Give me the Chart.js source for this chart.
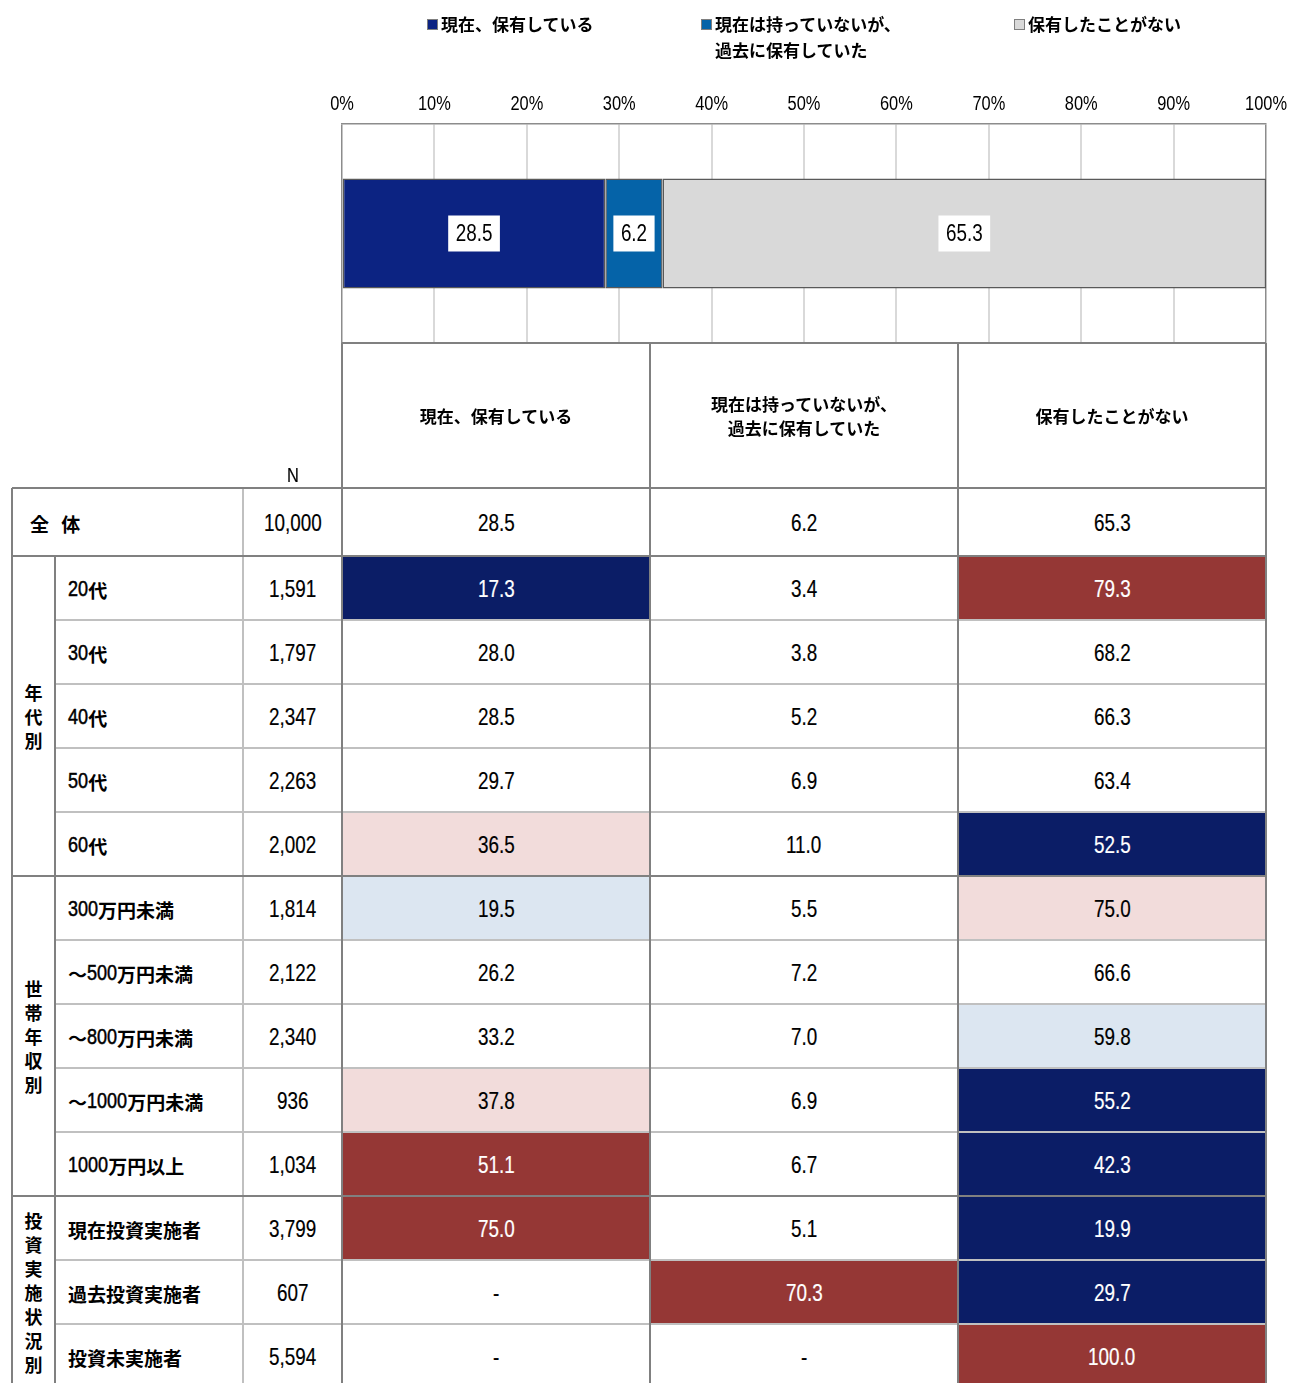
<!DOCTYPE html>
<html lang="ja">
<head>
<meta charset="utf-8">
<title>保有状況</title>
<script src="https://cdn.jsdelivr.net/npm/chart.js@4.4.1/dist/chart.umd.min.js"></script>
<style>
  html, body { margin: 0; padding: 0; background: #fff; }
  body {
    position: relative; width: 1290px; height: 1383px; overflow: hidden;
    font-family: "Noto Sans CJK JP", sans-serif;
    color: #000;
  }
  #chartBox { position: absolute; left: 0; top: 0; width: 1290px; height: 345px; }
  .legend-item { position: absolute; top: 11px; font-weight: 700; font-size: 17px; line-height: 26px; white-space: pre; }
  .legend-swatch { position: absolute; width: 9px; height: 9px; border: 1px solid #7f7f7f; top: 19px; }
  .cell { position: absolute; display: flex; align-items: center; box-sizing: border-box; white-space: nowrap; }
  .val { justify-content: center; font-size: 23px; padding-top: 3px; }
  .rowlabel { font-weight: 700; font-size: 19px; padding-left: 13px; padding-top: 2px; }
  .head { justify-content: center; text-align: center; font-weight: 700; font-size: 17px; line-height: 24px; white-space: pre; }
  .group { justify-content: center; text-align: center; font-weight: 700; font-size: 18px; line-height: 24px; }
  .rule { position: absolute; }
  /* narrow figures: Arial metrics squeezed horizontally */
  .nar { display: inline-block; font-family: "Liberation Sans", Arial, sans-serif; transform: scaleX(0.82); transform-origin: 0 50%; -webkit-text-stroke: 0.2px currentColor; }
  .rowlabel .nar { font-weight: 400; font-size: 22px; -webkit-text-stroke: 0.5px #000; }
</style>
</head>
<body>
<div id="chartBox"><canvas id="chart"></canvas></div>
<div id="legend"></div>
<div id="table"></div>
<script>
// ---- data ----
const seriesNames = ['現在、保有している', '現在は持っていないが、\n過去に保有していた', '保有したことがない'];
const rowLabels = ['全 体', '20代', '30代', '40代', '50代', '60代',
  '300万円未満', '～500万円未満', '～800万円未満', '～1000万円未満', '1000万円以上',
  '現在投資実施者', '過去投資実施者', '投資未実施者'];
const rowN = [10000, 1591, 1797, 2347, 2263, 2002, 1814, 2122, 2340, 936, 1034, 3799, 607, 5594];
const holdingNow = [28.5, 17.3, 28.0, 28.5, 29.7, 36.5, 19.5, 26.2, 33.2, 37.8, 51.1, 75.0, null, null];
const heldBefore = [6.2, 3.4, 3.8, 5.2, 6.9, 11.0, 5.5, 7.2, 7.0, 6.9, 6.7, 5.1, 70.3, null];
const neverHeld = [65.3, 79.3, 68.2, 66.3, 63.4, 52.5, 75.0, 66.6, 59.8, 55.2, 42.3, 19.9, 29.7, 100.0];
const groupLabels = ['年代別', '世帯年収別', '投資実施状況別'];
const groupSizes = [5, 5, 3];
const tickStep = 10;

const columns = [holdingNow, heldBefore, neverHeld];
// the stacked bar shows the first table row (全体)
const overall = columns.map(c => c[0]);

// ---- styling ----
const FIG_FONT = '"Liberation Sans", Arial, sans-serif';
const SQUEEZE = 0.82;
const barColors = ['#0c2382', '#0563a8', '#d9d9d9'];
const DARK = '#808080', LIGHT = '#c0c0c0';
const HI2 = '#953735', HI1 = '#f2dcdb', LO1 = '#dce6f1', LO2 = '#0b1d66';

// cell shading by difference from the overall value
function shade(v, base) {
  if (v == null) return null;
  const d = v - base;
  if (d >= 10) return { bg: HI2, fg: '#fff' };
  if (d >= 5) return { bg: HI1, fg: '#000' };
  if (d <= -10) return { bg: LO2, fg: '#fff' };
  if (d <= -5) return { bg: LO1, fg: '#000' };
  return null;
}

// draw squeezed text on the canvas
function squeezedText(ctx, txt, x, y, size) {
  ctx.save();
  ctx.font = size + 'px ' + FIG_FONT;
  ctx.textAlign = 'center';
  ctx.textBaseline = 'middle';
  ctx.translate(x, y);
  ctx.scale(SQUEEZE, 1);
  ctx.fillText(txt, 0, 0);
  ctx.restore();
}

// ---- stacked bar ----
Chart.defaults.font.family = FIG_FONT;
Chart.defaults.color = '#000';

const barValueLabels = {
  id: 'barValueLabels',
  afterDatasetsDraw(chart) {
    const ctx = chart.ctx;
    chart.data.datasets.forEach((ds, i) => {
      const meta = chart.getDatasetMeta(i);
      meta.data.forEach((el, j) => {
        const v = ds.data[j];
        const p = el.getProps(['x', 'base', 'y'], true);
        const cx = (p.x + p.base) / 2;
        const txt = v.toFixed(1);
        ctx.save();
        ctx.font = '23px ' + FIG_FONT;
        const w = ctx.measureText(txt).width * SQUEEZE + 15;
        const h = 36;
        ctx.fillStyle = '#fff';
        ctx.fillRect(cx - w / 2, p.y - h / 2, w, h);
        ctx.fillStyle = '#000';
        squeezedText(ctx, txt, cx, p.y + 1, 23);
        ctx.restore();
      });
    });
  }
};

// percent labels along the top axis, placed with the x scale
const axisLabels = {
  id: 'axisLabels',
  afterDraw(chart) {
    const sx = chart.scales.x;
    const ctx = chart.ctx;
    ctx.fillStyle = '#000';
    sx.ticks.forEach(t => {
      squeezedText(ctx, t.value + '%', sx.getPixelForValue(t.value), chart.chartArea.top - 20, 20);
    });
  }
};

new Chart(document.getElementById('chart'), {
  type: 'bar',
  data: {
    labels: [rowLabels[0]],
    datasets: seriesNames.map((name, i) => ({
      label: name,
      data: [overall[i]],
      backgroundColor: barColors[i],
      borderColor: '#595959',
      borderWidth: 1.5,
      borderSkipped: false,
      barPercentage: 0.503,
      categoryPercentage: 1
    }))
  },
  options: {
    indexAxis: 'y',
    responsive: true,
    maintainAspectRatio: false,
    animation: false,
    layout: { padding: { left: 342, right: 24, top: 80, bottom: 2 } },
    scales: {
      x: {
        stacked: true,
        position: 'top',
        min: 0, max: 100,
        ticks: { stepSize: tickStep, display: false },
        grid: {
          drawTicks: false,
          color: c => (c.tick && (c.tick.value === 0 || c.tick.value === 100)) ? '#8c8c8c' : '#d9d9d9',
          lineWidth: c => (c.tick && (c.tick.value === 0 || c.tick.value === 100)) ? 1.5 : 2
        },
        border: { display: true, color: '#8c8c8c', width: 1.5 },
        afterFit(scale) { scale.height = 44; scale.paddingLeft = 0; scale.paddingRight = 0; }
      },
      y: { stacked: true, display: false }
    },
    plugins: { legend: { display: false }, tooltip: { enabled: false } }
  },
  plugins: [barValueLabels, axisLabels]
});

// ---- legend ----
const legendX = [427, 701, 1014];
const legend = document.getElementById('legend');
seriesNames.forEach((name, i) => {
  const sw = document.createElement('div');
  sw.className = 'legend-swatch';
  sw.style.left = legendX[i] + 'px';
  sw.style.background = barColors[i];
  legend.appendChild(sw);
  const t = document.createElement('div');
  t.className = 'legend-item';
  t.style.left = (legendX[i] + 14) + 'px';
  t.textContent = name;
  legend.appendChild(t);
});

// ---- table ----
const X = { group: 12, label: 55, n: 243, d: [342, 650, 958, 1266] };
const HEAD_TOP = 343, HEAD_BOTTOM = 488, TOTAL_H = 68, ROW_H = 64, PAGE_BOTTOM = 1383;
const table = document.getElementById('table');

const figs = s => s.replace(/[0-9][0-9.,]*|-/g, m => '<span class="nar">' + m + '</span>');

function box(cls, left, top, width, height, html, bg, fg) {
  const d = document.createElement('div');
  d.className = 'cell ' + cls;
  Object.assign(d.style, { left: left + 'px', top: top + 'px', width: width + 'px', height: height + 'px' });
  if (bg) d.style.background = bg;
  if (fg) d.style.color = fg;
  d.innerHTML = html;
  table.appendChild(d);
  return d;
}
function rule(x1, y1, x2, y2, color) {
  const d = document.createElement('div');
  d.className = 'rule';
  const horiz = y1 === y2;
  Object.assign(d.style, horiz
    ? { left: x1 + 'px', top: (y1 - 1) + 'px', width: (x2 - x1) + 'px', height: '2px' }
    : { left: (x1 - 1) + 'px', top: y1 + 'px', width: '2px', height: (y2 - y1) + 'px' });
  d.style.background = color;
  table.appendChild(d);
}

// header
seriesNames.forEach((name, i) => {
  box('head', X.d[i], HEAD_TOP, X.d[i + 1] - X.d[i], HEAD_BOTTOM - HEAD_TOP, name);
});
const nHead = box('val', X.n, HEAD_BOTTOM - 24, X.d[0] - X.n, 20, '<span class="nar">N</span>');
nHead.style.fontSize = '20px';

// row positions
const rowTop = [HEAD_BOTTOM];
for (let r = 1; r < rowLabels.length; r++) rowTop.push(HEAD_BOTTOM + TOTAL_H + (r - 1) * ROW_H);
const rowBottom = rowTop.map((t, r) => r === 0 ? t + TOTAL_H : t + ROW_H);

rowLabels.forEach((lab, r) => {
  const top = rowTop[r], h = rowBottom[r] - top;
  if (r === 0) {
    const c = box('rowlabel', X.group, top, X.n - X.group, h, lab);
    c.style.paddingLeft = '18px';
    c.style.wordSpacing = '8px';
  } else {
    box('rowlabel', X.label, top, X.n - X.label, h, figs(lab));
  }
  box('val', X.n, top, X.d[0] - X.n, h, figs(rowN[r].toLocaleString('en-US')));
  columns.forEach((col, ci) => {
    const v = col[r];
    const s = r === 0 ? null : shade(v, col[0]);
    box('val', X.d[ci], top, X.d[ci + 1] - X.d[ci], h, figs(v == null ? '-' : v.toFixed(1)), s && s.bg, s && s.fg);
  });
});

// group labels, one character per line
let gStart = 1;
const groupBounds = [];
groupLabels.forEach((g, gi) => {
  const top = rowTop[gStart];
  const bottom = rowBottom[gStart + groupSizes[gi] - 1];
  box('group', X.group, top, X.label - X.group, bottom - top, Array.from(g).join('<br>'));
  groupBounds.push([gStart, gStart + groupSizes[gi] - 1]);
  gStart += groupSizes[gi];
});

// light rules inside groups
groupBounds.forEach(([a, b]) => {
  for (let r = a; r < b; r++) rule(X.label, rowBottom[r], X.d[3], rowBottom[r], LIGHT);
});
rule(X.n, HEAD_BOTTOM, X.n, PAGE_BOTTOM, LIGHT);

// dark rules
rule(X.d[0], HEAD_TOP, X.d[3], HEAD_TOP, DARK);
rule(X.group, HEAD_BOTTOM, X.d[3], HEAD_BOTTOM, DARK);
rule(X.group, rowBottom[0], X.d[3], rowBottom[0], DARK);
groupBounds.forEach(([a, b]) => {
  if (rowBottom[b] < PAGE_BOTTOM) rule(X.group, rowBottom[b], X.d[3], rowBottom[b], DARK);
});
X.d.forEach(x => rule(x, HEAD_TOP, x, PAGE_BOTTOM, DARK));
rule(X.group, HEAD_BOTTOM, X.group, PAGE_BOTTOM, DARK);
rule(X.label, rowTop[1], X.label, PAGE_BOTTOM, DARK);

// squeezed figures keep their full layout width; take the slack back
document.querySelectorAll('.nar').forEach(s => {
  s.style.marginRight = (-(1 - SQUEEZE) * s.offsetWidth) + 'px';
});
</script>
</body>
</html>
